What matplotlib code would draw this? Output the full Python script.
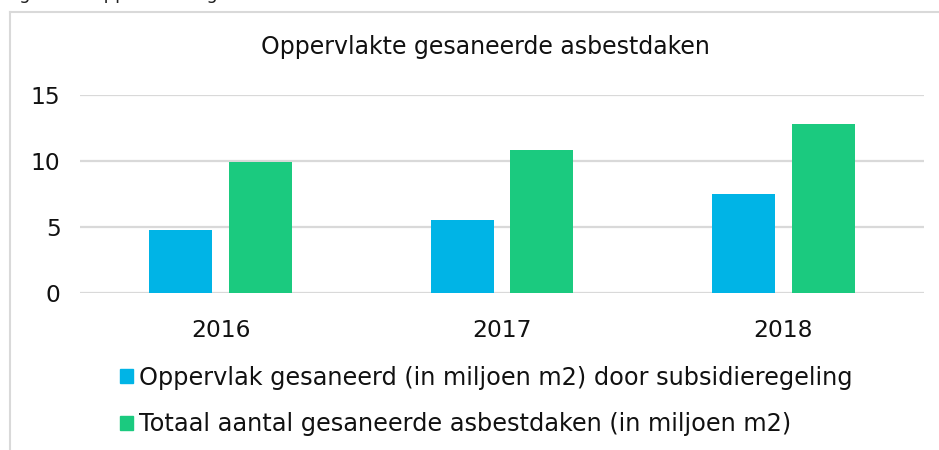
import matplotlib
matplotlib.use("Agg")
import matplotlib.pyplot as plt
import numpy as np
from matplotlib.patches import Patch

matplotlib.rcParams.update({"font.family": "DejaVu Sans"})

# data
years = ["2016", "2017", "2018"]
subsidie = [4.7, 5.5, 7.5]
totaal = [9.9, 10.8, 12.8]
labels = ["Oppervlak gesaneerd (in miljoen m2) door subsidieregeling",
          "Totaal aantal gesaneerde asbestdaken (in miljoen m2)"]

blue = "#00B4E6"
green = "#1BCA7F"
grid = "#D9D9D9"

fig = plt.figure(figsize=(9.39, 4.5), dpi=100)

# outer chart frame (cut off at right and bottom)
fig.add_artist(plt.Line2D([10 / 939, 1], [1 - 12 / 450, 1 - 12 / 450],
                          color=grid, lw=1.5, transform=fig.transFigure))
fig.add_artist(plt.Line2D([10 / 939, 10 / 939], [0, 1 - 12 / 450],
                          color=grid, lw=1.5, transform=fig.transFigure))

# caption above the frame, mostly cut off like in the source
fig.text(5 / 939, 1 + 1 / 450, "Figuur 5  Oppervlakte gesaneerde asbestdaken",
         fontsize=13, color="#222222", va="baseline", ha="left")

ax = fig.add_axes([80 / 939, 1 - 292.5 / 450, 844 / 939, 198 / 450])

x = np.arange(len(years))
off = 0.142
w = 0.224
ax.bar(x - off, subsidie, w, color=blue, zorder=3)
ax.bar(x + off, totaal, w, color=green, zorder=3)

ax.set_xlim(-0.5, 2.5)
ax.set_ylim(0, 15)
ax.set_yticks([0, 5, 10, 15])
ax.set_xticks(x)
ax.set_xticklabels(years)
ax.tick_params(axis="both", length=0, labelsize=16.8, colors="#111111")
ax.tick_params(axis="y", pad=14)
ax.tick_params(axis="x", pad=19)
ax.yaxis.grid(True, color=grid, lw=1.6, zorder=0)
for s in ax.spines.values():
    s.set_visible(False)

fig.text(485 / 939, 1 - 47 / 450, "Oppervlakte gesaneerde asbestdaken",
         fontsize=17, ha="center", va="center", color="#111111")

handles = [Patch(color=blue), Patch(color=green)]
fig.legend(handles, labels, loc="center", bbox_to_anchor=(486 / 939, 1 - 401 / 450),
           frameon=False, fontsize=17.3, handlelength=0.55, handleheight=0.55,
           handletextpad=0.25, labelspacing=0.95, labelcolor="#111111")

fig.savefig("out.png", dpi=100)
